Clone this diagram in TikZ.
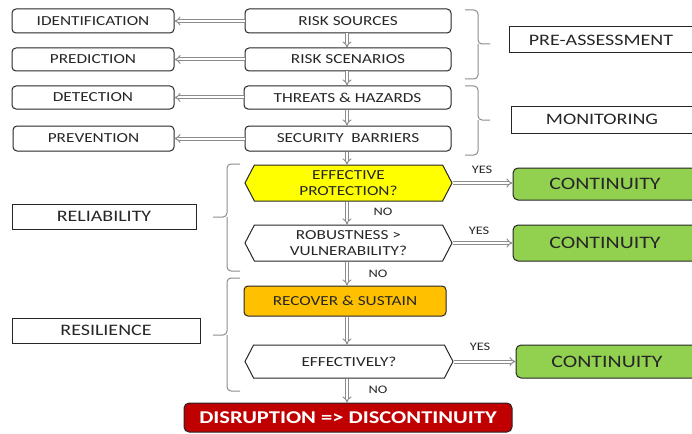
\documentclass[tikz,border=0pt]{standalone}
\usepackage{fontspec}
\setmainfont{Carlito}[FakeStretch=1.25]
\usetikzlibrary{arrows.meta,shapes.symbols}

\newcommand\smallfont{\fontsize{13.8}{16}\selectfont}
\newcommand\tagfont{\fontsize{11.5}{13}\selectfont}
\newcommand\sidefont{\fontsize{16}{18}\selectfont}
\newcommand\bigfont{\fontsize{17.5}{19}\selectfont}
\newcommand\alarmfont{\fontsize{18}{20}\selectfont\bfseries}

\definecolor{edge}{HTML}{262626}
\definecolor{txt}{HTML}{262626}
\definecolor{hexyellow}{HTML}{FFFF00}
\definecolor{amber}{HTML}{FFC000}
\definecolor{leaf}{HTML}{92D050}
\definecolor{alarm}{HTML}{C00000}
\definecolor{bracegray}{HTML}{8C8C8C}
\definecolor{pipe}{HTML}{8C8C8C}

\tikzset{
  base/.style={draw=edge, line width=1pt, inner sep=0pt, text=txt, align=center},
  rbox/.style={base, rounded corners=4pt, font=\smallfont},
  sbox/.style={base, font=\sidefont},
  hexa/.style={base, signal, signal to=east and west, signal pointer angle=125, font=\smallfont},
  goal/.style={base, rounded corners=5pt, fill=leaf, font=\bigfont},
  pipeline/.style={draw=pipe, double=white, double distance=2pt, line width=1pt, -{Implies[length=3.5pt]}},
  tag/.style={font=\tagfont, text=txt},
  bracket/.style={draw=bracegray, line width=1pt, rounded corners=4pt},
}

\begin{document}
\begin{tikzpicture}[x=1pt,y=-1pt]
\useasboundingbox (0,0) rectangle (692,433);
\clip (0,0) rectangle (692,433);

% left column: tasks
\node[rbox, minimum width=162, minimum height=24] (ident) at (93,21) {IDENTIFICATION};
\node[rbox, minimum width=162, minimum height=23] (pred) at (93,59.5) {PREDICTION};
\node[rbox, minimum width=162, minimum height=23] (detect) at (93,97.5) {DETECTION};
\node[rbox, minimum width=161, minimum height=25] (prevent) at (93.5,138.5) {PREVENTION};

% central chain
\node[rbox, minimum width=206, minimum height=24] (src) at (348,21) {RISK SOURCES};
\node[rbox, minimum width=206, minimum height=23] (scen) at (348,59.5) {RISK SCENARIOS};
\node[rbox, minimum width=207, minimum height=23] (threat) at (347.5,97.5) {THREATS \& HAZARDS};
\node[rbox, minimum width=206, minimum height=25] (barrier) at (348,138.5) {SECURITY\ \ BARRIERS};

\node[hexa, fill=hexyellow, minimum width=207, minimum height=36] (prot) at (348.5,183) {EFFECTIVE\\PROTECTION?};
\node[hexa, fill=white, minimum width=207, minimum height=36] (robust) at (348.5,243) {ROBUSTNESS >\\VULNERABILITY?};
\node[rbox, fill=amber, minimum width=202, minimum height=30] (recover) at (345,301) {RECOVER \& SUSTAIN};
\node[hexa, fill=white, minimum width=208, minimum height=33] (effect) at (349,361.5) {EFFECTIVELY?};
\node[base, rounded corners=5pt, fill=alarm, text=white, font=\alarmfont, minimum width=328, minimum height=29] (disrupt) at (348,417.5) {DISRUPTION => DISCONTINUITY};

% outcomes
\node[goal, minimum width=184, minimum height=32] (cont1) at (605,184) {CONTINUITY};
\node[goal, minimum width=184, minimum height=36] (cont2) at (605,243) {CONTINUITY};
\node[goal, minimum width=182, minimum height=33] (cont3) at (607,361.5) {CONTINUITY};

% phase labels
\node[sbox, minimum width=184, minimum height=26] (pre) at (601,40) {PRE-ASSESSMENT};
\node[sbox, minimum width=182, minimum height=27] (mon) at (602,119.5) {MONITORING};
\node[sbox, minimum width=184, minimum height=25] (rel) at (104,216.5) {RELIABILITY};
\node[sbox, minimum width=188, minimum height=25] (res) at (106,330.5) {RESILIENCE};

% links from the chain to the tasks
\draw[pipeline] (src.west) -- (ident.east);
\draw[pipeline] (scen.west) -- (pred.east);
\draw[pipeline] (threat.west) -- (detect.east);
\draw[pipeline] (barrier.west) -- (prevent.east);

% downward flow
\coordinate (cx) at (347,0);
\draw[pipeline] (src.south -| cx) -- (scen.north -| cx);
\draw[pipeline] (scen.south -| cx) -- (threat.north -| cx);
\draw[pipeline] (threat.south -| cx) -- (barrier.north -| cx);
\draw[pipeline] (barrier.south -| cx) -- (prot.north -| cx);
\draw[pipeline] (prot.south -| cx) -- (robust.north -| cx);
\draw[pipeline] (robust.south -| cx) -- (recover.north -| cx);
\draw[pipeline] (recover.south -| cx) -- (effect.north -| cx);
\draw[pipeline] (effect.south -| cx) -- (disrupt.north -| cx);

% yes branches
\draw[pipeline] (prot.east) -- (prot.east -| cont1.west);
\draw[pipeline] (robust.east) -- (robust.east -| cont2.west);
\draw[pipeline] (effect.east) -- (effect.east -| cont3.west);

\node[tag] (y1) at (482,170) {YES};
\node[tag] (y2) at (479,231) {YES};
\node[tag] (y3) at (480,347) {YES};
\node[tag] (n1) at (383,212) {NO};
\node[tag] (n2) at (378,274) {NO};
\node[tag] (n3) at (378,390) {NO};

% brackets grouping the phases
\draw[bracket] (465,10) -- (478,10) -- (478,44) -- (490,44) (478,44) -- (478,79) -- (465,79);
\draw[bracket] (465,86) -- (478,86) -- (478,120) -- (490,120) (478,120) -- (478,155) -- (465,155);
\draw[bracket] (240,164) -- (227,164) -- (227,217) -- (213,217) (227,217) -- (227,271) -- (240,271);
\draw[bracket] (240,278) -- (227,278) -- (227,335) -- (213,335) (227,335) -- (227,391) -- (240,391);
\end{tikzpicture}
\end{document}
